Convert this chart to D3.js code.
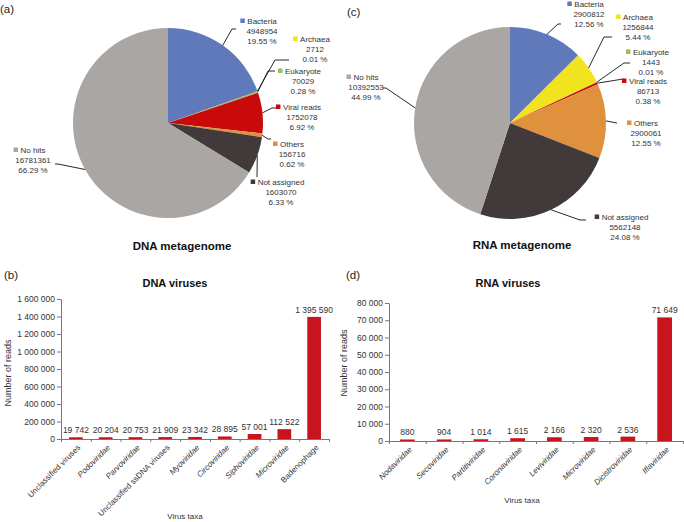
<!DOCTYPE html>
<html><head><meta charset="utf-8">
<script src="https://cdn.jsdelivr.net/npm/d3@7"></script>
<style>
body{margin:0;background:#fff}
svg{display:block}
text{font-family:"Liberation Sans",Arial,Helvetica,sans-serif;fill:#333}
</style>
</head><body>
<svg id="chart" width="684" height="522"></svg>
<script>
// ---------- DATA ----------
const pieCategories = ["Bacteria","Archaea","Eukaryote","Viral reads","Others","Not assigned","No hits"];
const dnaReads   = [4948954, 2712, 70029, 1752078, 156716, 1603070, 16781361];
const dnaPercent = ["19.55 %","0.01 %","0.28 %","6.92 %","0.62 %","6.33 %","66.29 %"];
const rnaReads   = [2900812, 1256844, 1443, 86713, 2900061, 5562148, 10392553];
const rnaPercent = ["12.56 %","5.44 %","0.01 %","0.38 %","12.55 %","24.08 %","44.99 %"];

const dnaVirusTaxa  = ["Unclassified viruses","Podoviridae","Parvoviridae","Unclassified ssDNA viruses","Myoviridae","Circoviridae","Siphoviridae","Microviridae","Badenophage"];
const dnaVirusItalic = [false,true,true,false,true,true,true,true,false];
const dnaVirusReads = [19742, 20204, 20753, 21909, 23342, 28895, 57001, 112522, 1395590];
const dnaTicks = [0,200000,400000,600000,800000,1000000,1200000,1400000,1600000];

const rnaVirusTaxa  = ["Nodaviridae","Secoviridae","Partitiviridae","Coronaviridae","Leviviridae","Microviridae","Dicistroviridae","Iflaviridae"];
const rnaVirusItalic = [true,true,true,true,true,true,true,true];
const rnaVirusReads = [880, 904, 1014, 1615, 2166, 2320, 2536, 71649];
const rnaTicks = [0,10000,20000,30000,40000,50000,60000,70000,80000];

// ---------- STYLE / LAYOUT ----------
const pieColors = ["#6079bb","#f1e41e","#9dbb59","#c80a0a","#e0913e","#41393a","#a9a6a4"];
const barColor = "#c8141c";

const dnaLabelLayout = [
  {cx:262, y:21,  leader:[[232,29],[236,29]]},
  {cx:315, y:39,  leader:[[275,60],[289,60]]},
  {cx:303, y:71,  leader:[[268,71],[275,71]]},
  {cx:302, y:107, leader:[[272,108],[277,108]]},
  {cx:292, y:144, leader:[[268,139],[271,139]]},
  {cx:281, y:182, leader:[[257,177]]},
  {cx:33,  y:150, leader:[[58,164],[55,164]]}
];
const rnaLabelLayout = [
  {cx:589, y:4,   leader:[[558,24],[561,24]]},
  {cx:638, y:17,  leader:[[604,37],[612,37]]},
  {cx:651, y:52,  leader:[[624,63],[630,63]]},
  {cx:648, y:81,  leader:[[623,79]]},
  {cx:646, y:123, leader:[[617,123]]},
  {cx:625, y:217, leader:[[580,220],[586,220]]},
  {cx:366, y:77,  leader:[[386,88],[383,88]]}
];

const svg = d3.select("#chart");
svg.append("rect").attr("width",684).attr("height",522).attr("fill","#fff");

const fmt = v => d3.format(",")(v).replace(/,/g, " ");

function panelLabel(txt, x, y){
  svg.append("text").attr("x",x).attr("y",y).attr("font-size",11.5).style("fill","#222").text(txt);
}

// ---------- PIE ----------
function drawPie(values, percents, layout, cx, cy, r, title, tx, ty){
  const g = svg.append("g");
  const pie = d3.pie().sort(null).value(d=>d);
  const arcs = pie(values);
  const arc = d3.arc().innerRadius(0).outerRadius(r);
  const edge = d3.arc().innerRadius(r).outerRadius(r);
  g.selectAll("path.slice").data(arcs).join("path")
    .attr("class","slice")
    .attr("transform",`translate(${cx},${cy})`)
    .attr("d",arc)
    .attr("fill",(d,i)=>pieColors[i]);

  arcs.forEach((d,i)=>{
    const c = edge.centroid(d);
    const pts = [[cx+c[0], cy+c[1]]].concat(layout[i].leader);
    g.append("path").attr("d", d3.line()(pts))
      .attr("fill","none").attr("stroke","#111").attr("stroke-width",0.9);
    const L = layout[i];
    const name = g.append("text").attr("x",L.cx).attr("y",L.y+3)
      .attr("text-anchor","middle").attr("font-size",8).text(pieCategories[i]);
    const w = name.node().getComputedTextLength();
    g.append("rect").attr("x",L.cx - w/2 - 7).attr("y",L.y-2.5)
      .attr("width",4.5).attr("height",4.5).attr("fill",pieColors[i]);
    g.append("text").attr("x",L.cx).attr("y",L.y+13)
      .attr("text-anchor","middle").attr("font-size",8).text(values[i]);
    g.append("text").attr("x",L.cx).attr("y",L.y+23)
      .attr("text-anchor","middle").attr("font-size",8).text(percents[i]);
  });

  svg.append("text").attr("x",tx).attr("y",ty).attr("text-anchor","middle")
    .attr("font-size",11.5).attr("font-weight","bold").style("fill","#111").text(title);
}

drawPie(dnaReads, dnaPercent, dnaLabelLayout, 168, 123, 95, "DNA metagenome", 182, 250);
drawPie(rnaReads, rnaPercent, rnaLabelLayout, 510, 123, 96, "RNA metagenome", 522, 249);
panelLabel("(a)", 0, 13);
panelLabel("(c)", 347, 16);

// ---------- BARS ----------
function drawBars(cats, italic, vals, ticks, x0, x1, yTop, yBot, barFrac, title, titleX, xTitleX, xTitleY, yTitleX, yTitleY){
  const g = svg.append("g");
  const x = d3.scaleBand().domain(cats).range([x0,x1])
    .paddingInner(1-barFrac).paddingOuter((1-barFrac)/2);
  const y = d3.scaleLinear().domain([0, d3.max(ticks)]).range([yBot, yTop]);
  const idx = d3.scaleLinear().domain([0,cats.length]).range([x0,x1]);

  // y axis
  const ya = g.append("g").attr("transform",`translate(${x0},0)`)
    .call(d3.axisLeft(y).tickValues(ticks).tickFormat(fmt).tickSize(4).tickSizeOuter(0));
  ya.select(".domain").attr("stroke","#777");
  ya.selectAll(".tick line").attr("stroke","#777");
  ya.selectAll(".tick text").attr("font-size",8.5).attr("x",-6).style("fill","#333")
    .style("font-family",'"Liberation Sans",Arial,sans-serif');

  // x axis (ticks at category boundaries)
  const xa = g.append("g").attr("transform",`translate(0,${yBot})`)
    .call(d3.axisBottom(idx).tickValues(d3.range(cats.length+1)).tickFormat("").tickSize(3).tickSizeOuter(0));
  xa.select(".domain").attr("stroke","#777");
  xa.selectAll(".tick line").attr("stroke","#777");

  // bars
  g.selectAll("rect.bar").data(vals).join("rect").attr("class","bar")
    .attr("x",(d,i)=>x(cats[i])).attr("width",x.bandwidth())
    .attr("y",d=>y(d)).attr("height",d=>yBot-y(d))
    .attr("fill",barColor);

  // value labels
  g.selectAll("text.val").data(vals).join("text").attr("class","val")
    .attr("x",(d,i)=>x(cats[i])+x.bandwidth()/2).attr("y",d=>y(d)-4)
    .attr("text-anchor","middle").attr("font-size",8.5).text(d=>fmt(d));

  // category labels
  g.selectAll("text.cat").data(cats).join("text").attr("class","cat")
    .attr("transform",d=>`translate(${x(d)+x.bandwidth()/2+5},${yBot+9}) rotate(-45)`)
    .attr("text-anchor","end").attr("font-size",8)
    .style("font-style",(d,i)=>italic[i]?"italic":"normal").text(d=>d);

  svg.append("text").attr("x",titleX).attr("y",287).attr("text-anchor","middle")
    .attr("font-size",11).attr("font-weight","bold").style("fill","#111").text(title);
  svg.append("text").attr("x",xTitleX).attr("y",xTitleY).attr("text-anchor","middle")
    .attr("font-size",8).text("Virus taxa");
  svg.append("text").attr("transform",`translate(${yTitleX},${yTitleY}) rotate(-90)`)
    .attr("text-anchor","middle").attr("font-size",9).text("Number of reads");
}

drawBars(dnaVirusTaxa, dnaVirusItalic, dnaVirusReads, dnaTicks, 61, 329, 299, 439, 0.46,
  "DNA viruses", 175, 185, 519, 11, 373);
drawBars(rnaVirusTaxa, rnaVirusItalic, rnaVirusReads, rnaTicks, 389, 683, 303, 441, 0.4,
  "RNA viruses", 508, 522, 503, 347, 363);
panelLabel("(b)", 4, 279);
panelLabel("(d)", 346, 279);
</script>
</body></html>
